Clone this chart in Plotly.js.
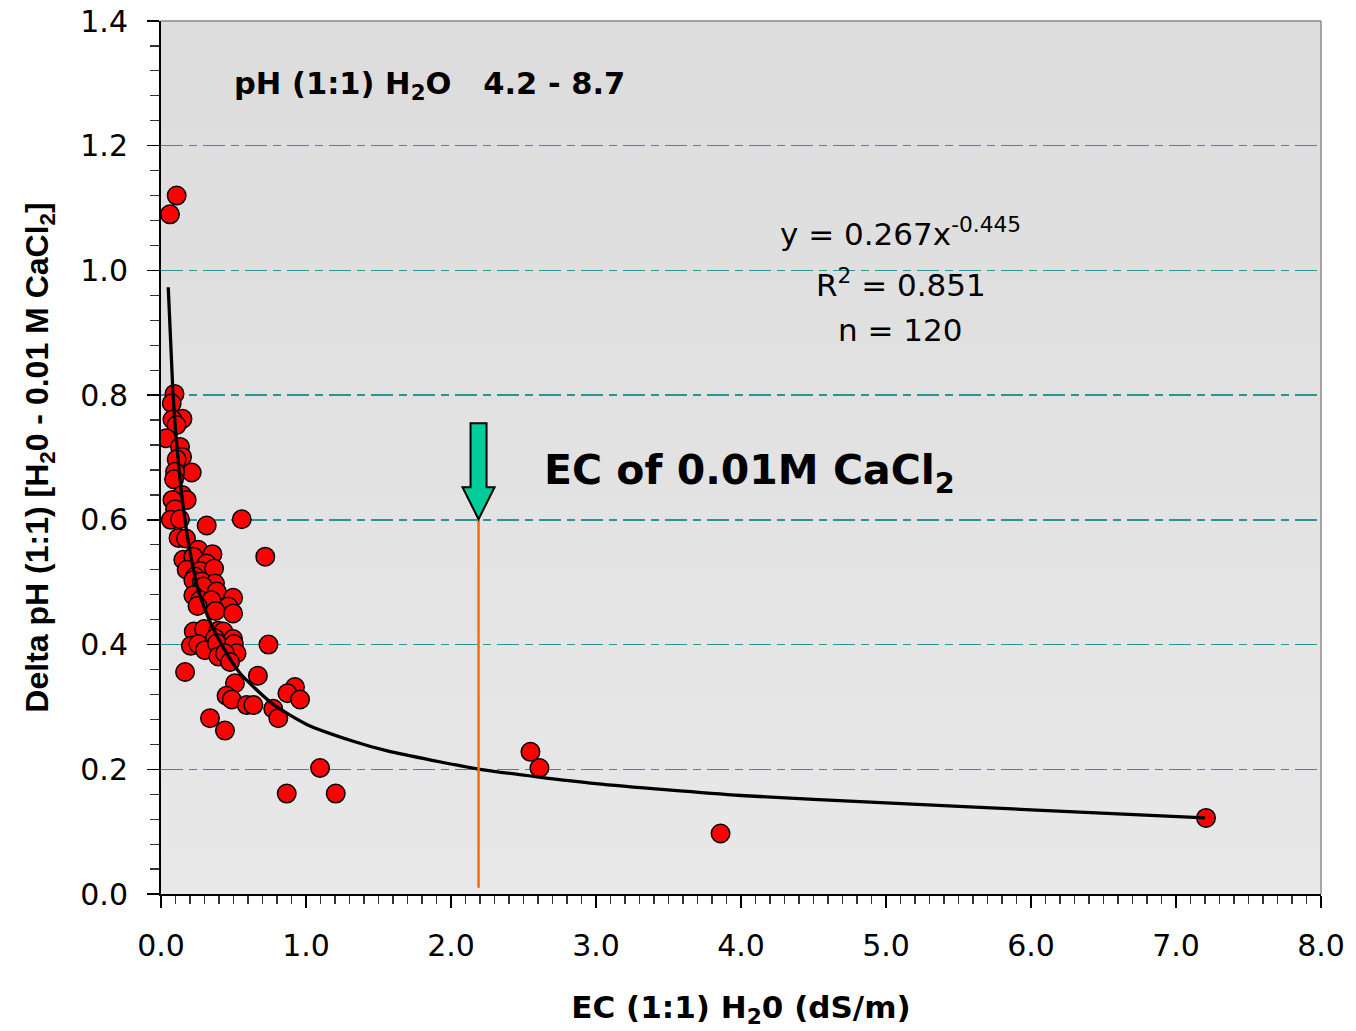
<!DOCTYPE html>
<html>
<head>
<meta charset="utf-8">
<script src="https://cdn.plot.ly/plotly-3.0.1.min.js"></script>
<style>html,body{margin:0;padding:0;background:#fff;}</style>
</head>
<body>
<div id="chart" style="width:1356px;height:1031px;"></div>
<script>
// EC (1:1) H2O in dS/m
const ecX = [0.108,0.062,0.093,0.074,0.148,0.079,0.107,0.037,0.131,0.145,0.108,0.212,0.097,0.090,0.145,0.177,0.079,0.097,0.068,0.131,0.315,0.557,0.121,0.172,0.257,0.355,0.719,0.154,0.223,0.315,0.177,0.269,0.366,0.234,0.223,0.281,0.372,0.292,0.384,0.223,0.269,0.348,0.497,0.252,0.464,0.376,0.497,0.226,0.297,0.395,0.430,0.372,0.497,0.206,0.257,0.303,0.386,0.503,0.741,0.521,0.395,0.441,0.476,0.166,0.668,0.510,0.924,0.872,0.959,0.452,0.488,0.591,0.637,0.774,0.809,0.338,0.441,1.097,0.867,1.205,2.548,2.610,3.859,7.207];
// Delta pH (H2O - 0.01 M CaCl2)
const deltaPH = [1.120,1.090,0.802,0.787,0.762,0.761,0.752,0.731,0.717,0.701,0.697,0.676,0.677,0.665,0.640,0.632,0.632,0.617,0.600,0.601,0.591,0.601,0.571,0.570,0.552,0.545,0.541,0.536,0.541,0.530,0.520,0.518,0.522,0.509,0.503,0.501,0.498,0.493,0.485,0.479,0.471,0.471,0.475,0.462,0.461,0.454,0.450,0.421,0.425,0.422,0.421,0.410,0.409,0.398,0.401,0.391,0.402,0.401,0.400,0.386,0.381,0.386,0.372,0.356,0.350,0.338,0.332,0.322,0.312,0.318,0.312,0.303,0.303,0.297,0.282,0.282,0.262,0.202,0.161,0.161,0.228,0.202,0.097,0.122];
// power trend line
const trendX = [0.05,0.081,0.1,0.131,0.154,0.188,0.257,0.338,0.43,0.545,0.774,1.005,1.326,1.568,2.2,3.0,4.0,5.0,6.0,7.2];
const trendY = [0.973,0.81,0.745,0.665,0.62,0.565,0.488,0.437,0.395,0.354,0.304,0.272,0.245,0.229,0.200,0.177,0.158,0.146,0.135,0.122];
// EC of 0.01M CaCl2 marker
const ecCaCl2 = 2.19;
const ecCaCl2Delta = 0.601;
// texts
const rangeLabel = 'pH (1:1) H<sub>2</sub>O\u00a0\u00a0\u00a04.2 - 8.7';
const eqLines = ['y = 0.267x<sup>-0.445</sup>', 'R<sup>2</sup> = 0.851', 'n = 120'];
const eqY = [1.062, 0.98, 0.905];
const ecLabel = 'EC of 0.01M CaCl<sub>2</sub>';
const xTitle = 'EC (1:1) H<sub>2</sub>0 (dS/m)';
const yTitle = 'Delta pH (1:1) [H<sub>2</sub>0 - 0.01 M CaCl<sub>2</sub>]';

const shapes = [];
// background gradient bands (darker top, lighter bottom)
const nb = 40;
for (let i = 0; i < nb; i++) {
  const c = Math.round(220 + 12 * (i / (nb - 1)));
  shapes.push({type:'rect', xref:'paper', yref:'paper', x0:0, x1:1,
    y0: 1 - (i + 1) / nb, y1: 1 - i / nb + 0.001, line:{width:0},
    fillcolor:`rgb(${c},${c},${c})`, layer:'below'});
}
// top and right border
shapes.push({type:'line', xref:'paper', yref:'paper', x0:0, x1:1, y0:1, y1:1, line:{color:'#8c8c8c', width:1.5}, layer:'above'});
shapes.push({type:'line', xref:'paper', yref:'paper', x0:1, x1:1, y0:0, y1:1, line:{color:'#8c8c8c', width:1.5}, layer:'above'});
// orange vertical line
shapes.push({type:'line', xref:'x', yref:'y', x0:ecCaCl2, x1:ecCaCl2, y0:0.01, y1:ecCaCl2Delta, line:{color:'#ff6a00', width:2.5}, layer:'above'});
// green block arrow
shapes.push({type:'path', xref:'x', yref:'y', xsizemode:'pixel', ysizemode:'pixel',
  xanchor:ecCaCl2, yanchor:ecCaCl2Delta,
  path:'M0,0 L-16,32 L-8,32 L-8,96 L8,96 L8,32 L16,32 Z',
  fillcolor:'#00cc99', line:{color:'#000', width:2}, layer:'above'});

const annotations = [
  {xref:'x', yref:'y', x:0.49, y:1.296, xanchor:'left', yanchor:'middle', showarrow:false,
   text:rangeLabel, font:{family:'DejaVu Sans', size:30.5, color:'#000', weight:'bold'}},
  {xref:'x', yref:'y', x:2.63, y:0.675, xanchor:'left', yanchor:'middle', showarrow:false,
   text:ecLabel, font:{family:'DejaVu Sans', size:41, color:'#000', weight:'bold'}}
];
eqLines.forEach((t, i) => annotations.push({xref:'x', yref:'y', x:5.1, y:eqY[i], xanchor:'center', yanchor:'middle',
  showarrow:false, text:t, font:{family:'DejaVu Sans', size:31, color:'#000'}}));

const traces = [
  {x: ecX, y: deltaPH, type:'scatter', mode:'markers',
   marker:{color:'#ff0000', size:18.5, line:{color:'#000', width:1.5}}, hoverinfo:'x+y'},
  {x: trendX, y: trendY, type:'scatter', mode:'lines',
   line:{color:'#000', width:3.3, shape:'spline', smoothing:0.6}, hoverinfo:'skip'}
];

const layout = {
  width:1356, height:1031,
  margin:{l:161, r:35, t:21, b:137},
  paper_bgcolor:'#ffffff', plot_bgcolor:'#e2e2e2',
  showlegend:false,
  font:{family:'DejaVu Sans', color:'#000'},
  xaxis:{range:[0,8], dtick:1, tick0:0, tickformat:'.1f', showgrid:false, zeroline:false,
    showline:true, linecolor:'#000', linewidth:2, ticks:'outside', ticklen:12, tickwidth:1.5, tickcolor:'#000',
    minor:{dtick:0.1, ticks:'outside', ticklen:8, tickwidth:1.2, tickcolor:'#333'},
    tickfont:{family:'DejaVu Sans', size:30, color:'#000'}, ticklabelstandoff:12,
    title:{text:xTitle, font:{family:'DejaVu Sans', size:31, color:'#000', weight:'bold'}, standoff:34}},
  yaxis:{range:[0,1.4], dtick:0.2, tick0:0, tickformat:'.1f', showgrid:true, gridcolor:'#2a9494', gridwidth:1.3,
    griddash:'22px,6px,8px,6px', zeroline:false,
    showline:true, linecolor:'#000', linewidth:2, ticks:'outside', ticklen:12, tickwidth:1.5, tickcolor:'#000',
    minor:{dtick:0.04, ticks:'outside', ticklen:9, tickwidth:1.2, tickcolor:'#333', showgrid:false},
    tickfont:{family:'DejaVu Sans', size:30, color:'#000'}, ticklabelstandoff:13,
    title:{text:yTitle, font:{family:'Liberation Sans', size:32, color:'#000', weight:'bold'}, standoff:22}},
  shapes: shapes,
  annotations: annotations
};

Plotly.newPlot('chart', traces, layout, {displayModeBar:false, staticPlot:true});
</script>
</body>
</html>
